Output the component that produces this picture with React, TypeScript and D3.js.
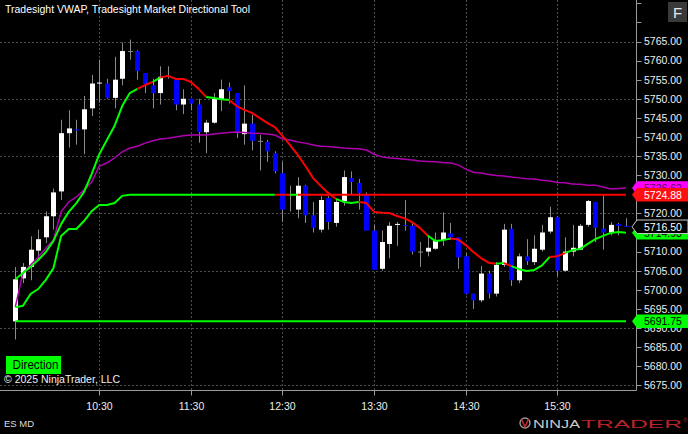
import React from "react";
import * as d3 from "d3";

const W = 688;
const H = 434;

const sessionStart = new Date(2025, 2, 14, 9, 35);
const sessionEnd = new Date(2025, 2, 14, 16, 15);
const barMinutes = 5;

const opens = [
  5691.75, 5703.0, 5706.0, 5710.25, 5713.75, 5719.25, 5725.75, 5741.0, 5742.0, 5742.0,
  5747.5, 5754.0, 5754.0, 5750.25, 5755.25, 5762.5, 5762.5, 5756.75, 5753.5, 5751.5,
  5756.0, 5755.0, 5748.5, 5750.0, 5748.5, 5741.25, 5743.75, 5749.75, 5753.0, 5751.5,
  5740.75, 5743.5, 5739.0, 5738.75, 5735.75, 5730.5, 5725.0, 5721.0, 5727.25, 5719.5,
  5715.75, 5724.0, 5717.5, 5723.25, 5729.25, 5728.0, 5725.0, 5715.5, 5705.5, 5712.0,
  5717.0, 5717.0, 5716.75, 5710.0, 5710.0, 5710.75, 5713.0, 5714.75, 5713.75, 5708.75,
  5699.0, 5697.25, 5704.25, 5699.0, 5706.5, 5716.0, 5702.5, 5708.75, 5707.25, 5710.5,
  5715.25, 5719.0, 5705.0, 5710.0, 5710.5, 5717.0, 5723.0, 5716.0, 5715.0, 5717.25,
  5716.75,
];
const highs = [
  5706.0, 5707.0, 5714.0, 5715.75, 5720.5, 5726.5, 5744.5, 5747.0, 5744.5, 5750.75,
  5756.25, 5760.25, 5755.25, 5761.0, 5764.75, 5765.5, 5762.75, 5756.75, 5755.25, 5758.5,
  5758.5, 5755.0, 5752.5, 5750.0, 5750.0, 5744.5, 5751.5, 5755.0, 5754.25, 5751.5,
  5753.5, 5745.75, 5740.5, 5739.25, 5736.25, 5733.5, 5727.25, 5729.5, 5727.5, 5723.0,
  5724.5, 5724.5, 5723.5, 5731.25, 5731.0, 5729.0, 5725.5, 5717.0, 5715.5, 5717.75,
  5717.75, 5723.5, 5717.75, 5712.5, 5713.75, 5715.0, 5720.25, 5717.5, 5713.75, 5709.5,
  5699.0, 5706.25, 5705.0, 5707.25, 5717.25, 5717.25, 5709.5, 5713.25, 5714.25, 5717.0,
  5721.75, 5719.25, 5713.75, 5717.0, 5717.25, 5723.5, 5723.0, 5725.0, 5717.75, 5717.5,
  5718.75,
];
const lows = [
  5687.0, 5701.75, 5702.5, 5707.75, 5712.25, 5715.75, 5723.5, 5737.25, 5738.0, 5735.5,
  5745.5, 5749.0, 5750.0, 5747.5, 5753.5, 5760.25, 5755.0, 5751.5, 5747.5, 5748.5,
  5755.25, 5747.0, 5746.0, 5747.0, 5738.5, 5735.75, 5743.5, 5746.75, 5748.75, 5739.75,
  5738.0, 5736.5, 5731.25, 5733.5, 5730.5, 5717.75, 5720.5, 5718.75, 5717.5, 5715.0,
  5715.0, 5715.75, 5716.5, 5722.0, 5725.0, 5721.0, 5715.5, 5705.25, 5705.0, 5708.25,
  5711.5, 5715.5, 5709.25, 5706.0, 5708.75, 5710.5, 5711.5, 5713.0, 5705.5, 5698.75,
  5695.0, 5696.75, 5697.75, 5698.25, 5706.0, 5701.0, 5701.75, 5706.5, 5706.5, 5710.0,
  5714.75, 5703.5, 5704.75, 5708.75, 5710.5, 5716.5, 5712.5, 5710.5, 5714.25, 5714.25,
  5716.5,
];
const closes = [
  5702.75, 5706.0, 5710.5, 5713.25, 5719.25, 5725.5, 5741.0, 5742.25, 5741.75, 5747.25,
  5754.0, 5754.25, 5750.25, 5755.0, 5762.5, 5762.5, 5757.25, 5753.75, 5751.5, 5755.75,
  5756.0, 5748.5, 5750.0, 5748.75, 5741.25, 5743.75, 5750.0, 5752.5, 5752.0, 5741.0,
  5743.5, 5739.0, 5739.0, 5736.25, 5731.0, 5721.0, 5725.0, 5727.25, 5719.5, 5716.25,
  5723.5, 5717.75, 5723.0, 5729.5, 5728.25, 5725.25, 5715.5, 5705.25, 5712.5, 5716.75,
  5717.25, 5716.75, 5710.0, 5710.0, 5711.0, 5713.0, 5715.0, 5713.75, 5708.5, 5699.0,
  5697.25, 5704.25, 5699.0, 5706.5, 5715.75, 5702.5, 5708.75, 5707.5, 5710.75, 5715.0,
  5719.0, 5705.0, 5710.0, 5711.0, 5716.75, 5723.25, 5716.25, 5715.0, 5717.0, 5716.75,
  5716.5,
];

const vwap = [
  5695.5, 5704.4, 5706.5, 5708.6, 5710.9, 5713.0, 5720.4, 5723.0, 5724.3, 5726.1,
  5728.2, 5732.4, 5733.2, 5734.5, 5736.1, 5737.1, 5737.6, 5738.4, 5739.0, 5739.5,
  5739.7, 5740.0, 5740.3, 5740.5, 5740.5, 5740.5, 5740.8, 5741.0, 5741.2, 5741.3,
  5741.2, 5741.0, 5740.9, 5740.8, 5740.5, 5739.5, 5739.2, 5738.7, 5738.4, 5737.9,
  5737.6, 5737.5, 5737.3, 5737.1, 5737.0, 5736.9, 5736.6, 5735.5, 5734.8, 5734.5,
  5734.4, 5734.2, 5734.0, 5733.7, 5733.6, 5733.5, 5733.3, 5733.2, 5732.7, 5731.6,
  5730.8, 5730.6, 5730.2, 5729.9, 5729.8, 5729.5, 5729.3, 5729.1, 5729.0, 5728.7,
  5728.5, 5728.1, 5728.0, 5727.7, 5727.6, 5727.4, 5727.4, 5726.9, 5726.4, 5726.5,
  5726.62,
];

const trendLine = [
  5702.75, 5704.4, 5706.0, 5707.8, 5709.9, 5712.8, 5717.2, 5720.4, 5722.7, 5725.6,
  5730.3, 5735.5, 5739.2, 5742.9, 5748.1, 5751.5, 5752.6, 5753.6, 5754.4, 5755.6,
  5756.0, 5755.2, 5755.2, 5754.4, 5752.6, 5750.5, 5750.2, 5749.9, 5749.7, 5748.1,
  5747.1, 5746.3, 5745.0, 5743.7, 5742.6, 5740.3, 5737.9, 5735.3, 5732.4, 5729.3,
  5727.2, 5725.3, 5723.8, 5723.0, 5722.7, 5723.0, 5722.7, 5720.4, 5720.2, 5720.1,
  5719.3, 5718.7, 5717.7, 5716.2, 5714.2, 5712.8, 5713.0, 5713.4, 5713.2, 5711.7,
  5709.9, 5708.3, 5707.1, 5706.8, 5707.0, 5706.2, 5705.4, 5704.9, 5705.2, 5706.4,
  5708.6, 5708.8, 5709.6, 5710.4, 5710.7, 5712.0, 5713.3, 5714.1, 5714.9, 5715.1,
  5714.93,
];
// 1 = rising (green), 0 = falling (red); segment ending at that bar
const trendUp = [
  1, 1, 1, 1, 1, 1, 1, 1, 1, 1, 1, 1, 1, 1, 1, 1, 1, 0, 0, 1,
  0, 0, 0, 0, 0, 0, 1, 1, 1, 0, 0, 0, 0, 0, 0, 0, 0, 0, 0, 0,
  0, 0, 0, 1, 1, 1, 0, 0, 0, 0, 0, 0, 0, 0, 0, 1, 1, 1, 0, 0,
  0, 0, 0, 0, 1, 0, 1, 1, 1, 1, 1, 0, 0, 1, 1, 1, 1, 1, 1, 1,
  1,
];

// rising step line of the directional level for the first bars
const stepLine = [
  5695.4, 5695.8, 5698.9, 5700.2, 5702.6, 5705.7, 5714.1, 5715.9, 5715.9, 5718.0,
  5720.6, 5722.2, 5722.2, 5722.7, 5724.6, 5724.88,
];
const directionLevel = 5724.88;
// [fromBar, toBar, up]
const levelSegments: [number, number, number][] = [
  [15, 34, 1],
  [34, 36, 0],
  [36, 37, 1],
  [37, 80, 0],
];
const openLevel = 5691.75;

const timeTickLabels = ["10:30", "11:30", "12:30", "13:30", "14:30", "15:30"];
const priceTickLabels = [
  5675, 5680, 5685, 5690, 5695, 5700, 5705, 5710, 5715, 5720, 5725, 5730, 5735, 5740,
  5745, 5750, 5755, 5760, 5765, 5770, 5775,
];
const gridPrices = [5675, 5690, 5705, 5720, 5735, 5750, 5765];

const FONT = "'Liberation Sans', Arial, sans-serif";
const GREEN = "#00ff00";
const RED = "#ff0000";

function barTime(i: number) {
  return new Date(sessionStart.getTime() + i * barMinutes * 60000);
}
function tickTime(label: string) {
  const [h, m] = label.split(":").map(Number);
  return new Date(2025, 2, 14, h, m);
}

export default function App() {
  const x = d3.scaleTime().domain([sessionStart, sessionEnd]).range([15.3, 626]);
  const y = d3.scaleLinear().domain([5675, 5765]).range([385.3, 41.5]);
  const plotRight = 636.5;
  const plotBottom = 390.5;
  const fmt = d3.format(".2f");

  const lineGen = d3
    .line<[number, number]>()
    .x((d) => x(barTime(d[0])))
    .y((d) => y(d[1]));

  // trend line colored runs
  const trendRuns: { up: number; pts: [number, number][] }[] = [];
  for (let i = 1; i < trendLine.length; i++) {
    const up = trendUp[i];
    const last = trendRuns[trendRuns.length - 1];
    if (last && last.up === up) {
      last.pts.push([i, trendLine[i]]);
    } else {
      trendRuns.push({ up, pts: [[i - 1, trendLine[i - 1]], [i, trendLine[i]]] });
    }
  }

  const stepPts: [number, number][] = stepLine.map((v, i) => [i, v]);
  const vwapPts: [number, number][] = vwap.map((v, i) => [i, v]);
  const n = closes.length;

  const marker = (value: number, fill: string, textColor: string, stroke?: string, label?: string) => {
    const cy = y(value);
    const t = cy - 6.75;
    const b = cy + 6.75;
    const pts = `632,${cy} 637,${t} 688,${t} 688,${b} 637,${b}`;
    return (
      <g key={fill + value}>
        <polygon points={pts} fill={fill} stroke={stroke || "none"} strokeWidth={1} />
        <text x={644} y={cy + 3.8} fill={textColor} fontSize={10.5} fontFamily={FONT}>
          {label ?? fmt(value)}
        </text>
      </g>
    );
  };

  return (
    <svg
      width={W}
      height={H}
      style={{ position: "absolute", left: 0, top: 0, display: "block" }}
      xmlns="http://www.w3.org/2000/svg"
    >
      <rect x={0} y={0} width={W} height={H} fill="#000" />

      {/* grid */}
      {gridPrices.map((p) => (
        <line
          key={"hg" + p}
          x1={0}
          x2={plotRight}
          y1={Math.round(y(p)) + 0.5}
          y2={Math.round(y(p)) + 0.5}
          stroke="#4d4d4d"
          strokeDasharray="2,2"
        />
      ))}
      {timeTickLabels.map((t) => (
        <line
          key={"vg" + t}
          x1={Math.round(x(tickTime(t))) + 0.5}
          x2={Math.round(x(tickTime(t))) + 0.5}
          y1={0}
          y2={plotBottom}
          stroke="#4d4d4d"
          strokeDasharray="2,2"
        />
      ))}

      {/* candles */}
      {closes.map((c, i) => {
        const o = opens[i];
        const cx = Math.round(x(barTime(i)));
        const top = y(Math.max(o, c));
        const bot = y(Math.min(o, c));
        const fill = c > o ? "#ffffff" : c < o ? "#0000ff" : "#8a8a8a";
        return (
          <g key={"c" + i}>
            <line x1={cx + 0.5} x2={cx + 0.5} y1={y(highs[i])} y2={y(lows[i])} stroke="#8a8a8a" strokeWidth={1} />
            <rect x={cx - 2} y={top} width={5} height={Math.max(1, bot - top)} fill={fill} />
          </g>
        );
      })}

      {/* open level */}
      <line
        x1={x(barTime(0))}
        x2={x(barTime(n - 1))}
        y1={y(openLevel)}
        y2={y(openLevel)}
        stroke={GREEN}
        strokeWidth={2}
      />

      {/* vwap */}
      <path d={lineGen(vwapPts) || ""} fill="none" stroke="#b000b0" strokeWidth={1.5} />

      {/* direction level step + horizontal */}
      <path d={lineGen(stepPts) || ""} fill="none" stroke={GREEN} strokeWidth={2} />
      {levelSegments.map(([a, b, up], k) => (
        <line
          key={"ls" + k}
          x1={x(barTime(a))}
          x2={x(barTime(b))}
          y1={y(directionLevel)}
          y2={y(directionLevel)}
          stroke={up ? GREEN : RED}
          strokeWidth={2}
        />
      ))}

      {/* trend line */}
      {trendRuns.map((r, k) => (
        <path
          key={"tr" + k}
          d={lineGen(r.pts) || ""}
          fill="none"
          stroke={r.up ? GREEN : RED}
          strokeWidth={2}
          strokeLinejoin="round"
        />
      ))}

      {/* axes */}
      <line x1={plotRight} x2={plotRight} y1={0} y2={plotBottom} stroke="#9a9a9a" />
      <line x1={0} x2={plotRight} y1={plotBottom} y2={plotBottom} stroke="#9a9a9a" />
      {priceTickLabels.map((p) => (
        <g key={"pt" + p}>
          <line x1={plotRight} x2={plotRight + 5} y1={Math.round(y(p)) + 0.5} y2={Math.round(y(p)) + 0.5} stroke="#9a9a9a" />
          {p <= 5765 && (
            <text x={644} y={y(p) + 3.8} fill="#eeeeee" fontSize={10.5} fontFamily={FONT}>
              {fmt(p)}
            </text>
          )}
        </g>
      ))}
      {timeTickLabels.map((t) => {
        const tx = Math.round(x(tickTime(t))) + 0.5;
        return (
          <g key={"tt" + t}>
            <line x1={tx} x2={tx} y1={plotBottom} y2={plotBottom + 5} stroke="#9a9a9a" />
            <text x={tx} y={409.5} fill="#eeeeee" fontSize={10.5} fontFamily={FONT} textAnchor="middle">
              {t}
            </text>
          </g>
        );
      })}

      {/* price markers */}
      {marker(vwap[n - 1], "#ff00ff", "#600060")}
      {marker(directionLevel, "#ff1010", "#ffffff")}
      {marker(trendLine[n - 1], GREEN, "#000000")}
      {marker(closes[n - 1], "#000000", "#ffffff", "#c8c8c8")}
      {marker(openLevel, GREEN, "#000000")}

      {/* F button */}
      <rect x={668} y={2} width={19} height={20} fill="#3a3a3a" />
      <text x={677.5} y={17.5} fill="#e8e8e8" fontSize={15} fontFamily={FONT} textAnchor="middle">
        F
      </text>

      {/* title */}
      <text x={5} y={13.3} fill="#ffffff" fontSize={11.5} fontFamily={FONT} textLength={245} lengthAdjust="spacingAndGlyphs">
        Tradesight VWAP, Tradesight Market Directional Tool
      </text>

      {/* Direction label */}
      <rect x={6} y={356} width={55} height={18} fill={GREEN} />
      <text x={12.5} y={369.3} fill="#000" fontSize={12} fontFamily={FONT} textLength={46} lengthAdjust="spacingAndGlyphs">
        Direction
      </text>
      <text x={4} y={382.5} fill="#f0f0f0" fontSize={11.5} fontFamily={FONT} textLength={116} lengthAdjust="spacingAndGlyphs">
        © 2025 NinjaTrader, LLC
      </text>
      <text x={4} y={426.5} fill="#dddddd" fontSize={9.5} fontFamily={FONT}>
        ES MD
      </text>

      {/* logo */}
      <g>
        <circle cx={525} cy={423} r={5} fill="none" stroke="#9a9a9a" strokeWidth={1.4} />
        <path d="M521.5,419.5 L525,427 L528.5,419" fill="none" stroke="#c0282d" strokeWidth={1.6} />
        <text x={533} y={428} fill="#c8c8c8" fontSize={11} fontFamily={FONT} textLength={47} lengthAdjust="spacingAndGlyphs">
          NINJA
        </text>
        <text x={581} y={428} fill="#b8242a" fontSize={11} fontFamily={FONT} textLength={101} lengthAdjust="spacingAndGlyphs">
          TRADER
        </text>
        <text x={683} y={422} fill="#b8242a" fontSize={6} fontFamily={FONT}>
          ®
        </text>
      </g>
    </svg>
  );
}
